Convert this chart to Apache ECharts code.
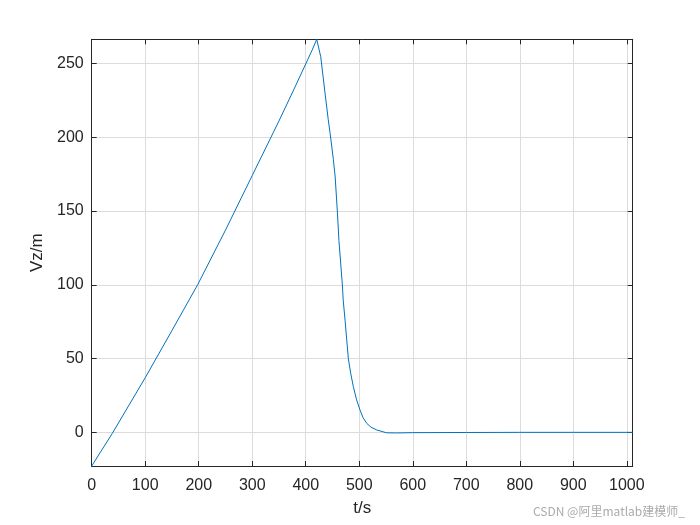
<!DOCTYPE html>
<html>
<head>
<meta charset="utf-8">
<script src="https://cdn.jsdelivr.net/npm/echarts@6/dist/echarts.min.js"></script>
<style>
  html, body { margin: 0; padding: 0; background: #fff; }
  #chart { width: 700px; height: 525px; }
</style>
</head>
<body>
<div id="chart"></div>
<script>
// time (s) and vertical value
const tData = [0, 38, 100, 150, 198, 250, 300, 350, 380, 412, 420.5,
  428, 436, 442, 445.4, 451.6, 455, 459, 462, 468.4, 470, 473.5, 476.6, 479.6, 484, 489, 495,
  501.5, 507, 514, 522, 532.7, 551, 570, 600, 700, 800, 900, 1011]
const vData = [-22.8, -1, 37, 69, 100, 137, 174, 211, 234, 259, 266.3,
  254.5, 230, 212, 203, 185, 173, 150, 130, 100, 89.6, 76, 62.5, 50, 40, 30.9, 22,
  15.1, 10, 6.1, 3.5, 1.6, -0.3, -0.4, -0.2, -0.1, 0, 0, 0]

const xMin = 0, xMax = 1011
const yMin = -22.8, yMax = 266.3

const axisColor = '#262626'
const labelFont = { color: '#262626', fontSize: 16, fontFamily: 'Liberation Sans, Arial, sans-serif' }

const chart = echarts.init(document.getElementById('chart'))
chart.setOption({
  animation: false,
  grid: { left: 91.7, right: 67.3, top: 39.3, bottom: 59, containLabel: false },
  xAxis: [{
    type: 'value', min: xMin, max: xMax, splitNumber: 10,
    name: 't/s', nameLocation: 'middle', nameGap: 34,
    nameTextStyle: { ...labelFont, fontSize: 17 },
    axisLine: { show: true, onZero: false, lineStyle: { color: axisColor, width: 1 } },
    axisTick: { show: true, inside: true, length: 5, lineStyle: { color: axisColor } },
    axisLabel: { ...labelFont, margin: 12, showMaxLabel: false, formatter: v => String(v) },
    splitLine: { show: true, lineStyle: { color: '#dcdcdc', width: 1 } }
  }, {
    type: 'value', position: 'top', min: xMin, max: xMax, splitNumber: 10,
    axisLine: { show: true, onZero: false, lineStyle: { color: axisColor, width: 1 } },
    axisTick: { show: true, inside: true, length: 5, lineStyle: { color: axisColor } },
    axisLabel: { show: false },
    splitLine: { show: false }
  }],
  yAxis: [{
    type: 'value', min: yMin, max: yMax, splitNumber: 5,
    name: 'Vz/m', nameLocation: 'middle', nameGap: 44,
    nameTextStyle: { ...labelFont, fontSize: 17 },
    axisLine: { show: true, onZero: false, lineStyle: { color: axisColor, width: 1 } },
    axisTick: { show: true, inside: true, length: 5, lineStyle: { color: axisColor } },
    axisLabel: { ...labelFont, margin: 8, showMinLabel: false, showMaxLabel: false, formatter: v => String(v) },
    splitLine: { show: true, lineStyle: { color: '#dcdcdc', width: 1 } }
  }, {
    type: 'value', position: 'right', min: yMin, max: yMax, splitNumber: 5,
    axisLine: { show: true, onZero: false, lineStyle: { color: axisColor, width: 1 } },
    axisTick: { show: true, inside: true, length: 5, lineStyle: { color: axisColor } },
    axisLabel: { show: false },
    splitLine: { show: false }
  }],
  graphic: [{
    type: 'text', left: 533, top: 505,
    style: { text: 'CSDN @阿里matlab建模师_', fill: '#ababab', fontSize: 12, fontFamily: 'Noto Sans CJK SC, sans-serif' }
  }],
  series: [{
    type: 'line',
    data: tData.map((t, i) => [t, vData[i]]),
    showSymbol: false,
    smooth: false,
    lineStyle: { color: '#0072BD', width: 1 }
  }]
})
</script>
</body>
</html>
